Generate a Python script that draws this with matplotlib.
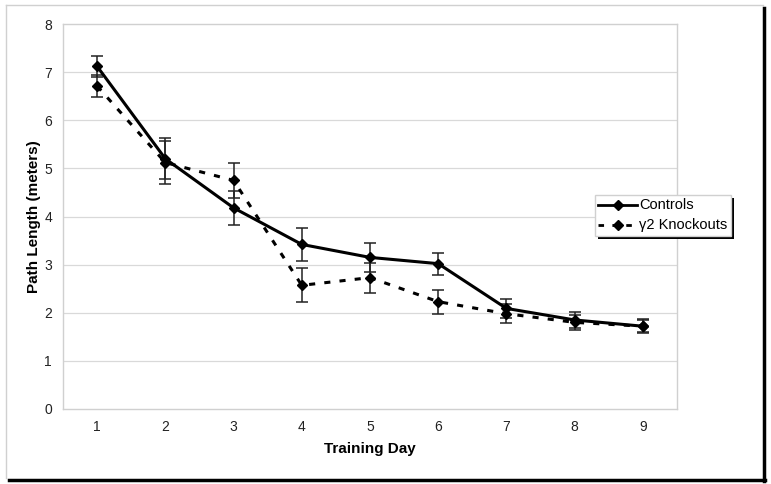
import numpy as np
import matplotlib
matplotlib.use('Agg')
import matplotlib.pyplot as plt
from matplotlib.patches import Rectangle
from matplotlib.lines import Line2D

plt.rcParams['font.family'] = ['Liberation Sans', 'DejaVu Sans']

# ==============================================
# Path length per training day (controls vs knockouts)
# ==============================================
days = [1, 2, 3, 4, 5, 6, 7, 8, 9]
controls = [7.12, 5.20, 4.18, 3.42, 3.15, 3.02, 2.09, 1.85, 1.72]
controls_err = [0.22, 0.43, 0.36, 0.34, 0.30, 0.23, 0.20, 0.16, 0.15]
knockouts = [6.71, 5.12, 4.75, 2.57, 2.73, 2.23, 1.98, 1.80, 1.72]
knockouts_err = [0.22, 0.45, 0.37, 0.35, 0.31, 0.25, 0.20, 0.15, 0.13]
yticks = [0, 1, 2, 3, 4, 5, 6, 7, 8]

W, H = 771, 484
fig = plt.figure(figsize=(W / 100, H / 100), dpi=100)

# outer chart frame: light gray top/left, black shadow right/bottom
fig.add_artist(Line2D([6 / W, 763 / W], [1 - 5 / H, 1 - 5 / H], color='#d0d0d0', lw=1))
fig.add_artist(Line2D([6 / W, 6 / W], [1 - 5 / H, 1 - 478 / H], color='#d0d0d0', lw=1))
fig.add_artist(Line2D([764 / W, 764 / W], [1 - 8 / H, 1 - 481 / H], color='black', lw=2.5))
fig.add_artist(Line2D([9 / W, 765 / W], [1 - 480 / H, 1 - 480 / H], color='black', lw=2.5))

ax = fig.add_axes([63 / W, 1 - 409 / H, (677 - 63) / W, (409 - 24) / H])

ax.errorbar(days, controls, yerr=controls_err, color='black', lw=2.2, marker='D',
            markersize=5.5, ecolor='#222222', elinewidth=1.1, capsize=4, capthick=1.1,
            label='Controls', zorder=3)
ax.errorbar(days, knockouts, yerr=knockouts_err, color='black', lw=2.2, ls=(0, (2, 3)),
            marker='D', markersize=5.5, ecolor='#222222', elinewidth=1.1, capsize=4,
            capthick=1.1, label='\u03b32 Knockouts', zorder=3)

ax.set_xlim(0.5, 9.5)
ax.set_ylim(0, 8)
ax.set_xticks(days)
ax.set_yticks(yticks)
ax.tick_params(length=0, labelsize=10, colors='#222222')
ax.tick_params(axis='x', pad=8)
ax.tick_params(axis='y', pad=8)
for y in yticks[1:-1]:
    ax.axhline(y, color='#d9d9d9', lw=0.9, zorder=0)
for s in ax.spines.values():
    s.set_color('#d0d0d0')
    s.set_linewidth(1)

ax.set_xlabel('Training Day', fontsize=11, fontweight='bold', labelpad=6)
ax.set_ylabel('Path Length (meters)', fontsize=11, fontweight='bold', labelpad=2)

# legend box with shadow
lx0, lx1, ly0, ly1 = 595, 731, 195, 236
fig.add_artist(Rectangle(((lx0 + 3) / W, 1 - (ly1 + 3) / H), (lx1 - lx0) / W, (ly1 - ly0) / H,
                         facecolor='black', edgecolor='none', zorder=5))
fig.add_artist(Rectangle((lx0 / W, 1 - ly1 / H), (lx1 - lx0) / W, (ly1 - ly0) / H,
                         facecolor='white', edgecolor='#d0d0d0', lw=1, zorder=6))
rows = [(205, '-', 'Controls'), (225, (0, (2, 3)), '\u03b32 Knockouts')]
for yy, ls, txt in rows:
    fig.add_artist(Line2D([598 / W, 637 / W], [1 - yy / H] * 2, color='black', lw=2,
                          ls=ls, zorder=7))
    fig.add_artist(Line2D([618 / W], [1 - yy / H], color='black', marker='D',
                          markersize=5, zorder=7))
    fig.text(639 / W, 1 - yy / H, txt, fontsize=10.5, va='center', ha='left', zorder=7)

fig.savefig('out.png', dpi=100)
plt.close(fig)
